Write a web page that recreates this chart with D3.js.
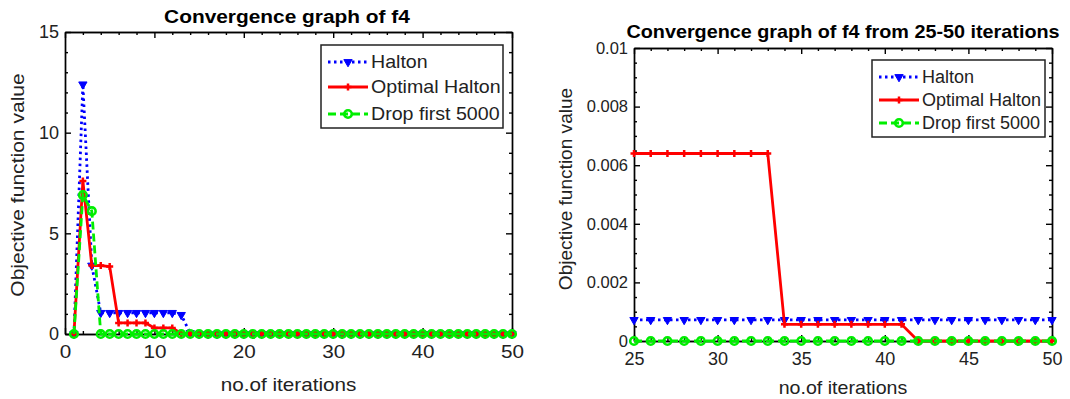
<!DOCTYPE html>
<html>
<head>
<meta charset="utf-8">
<script src="https://cdn.jsdelivr.net/npm/d3@7"></script>
<style>
  body { margin: 0; background: #fff; }
  svg { font-family: "Liberation Sans", Arial, sans-serif; }
  .axis path, .axis line { stroke: #000; stroke-width: 1.4; }
  .axis text { font-size: 18px; fill: #222; }
</style>
</head>
<body>
<svg id="chart" width="1070" height="399"></svg>
<script>

// iteration numbers
var iterations = [1, 2, 3, 4, 5, 6, 7, 8, 9, 10, 11, 12, 13, 14, 15, 16, 17, 18, 19, 20,
    21, 22, 23, 24, 25, 26, 27, 28, 29, 30, 31, 32, 33, 34, 35, 36, 37, 38, 39, 40,
    41, 42, 43, 44, 45, 46, 47, 48, 49, 50];

var halton = [0, 12.4, 3.4, 1.05, 1.05, 1.05, 1.05, 1.05, 1.05, 1.05, 1.05, 1.05, 0.95, 0.05,
    0.00072, 0.00072, 0.00072, 0.00072, 0.00072, 0.00072, 0.00072, 0.00072, 0.00072, 0.00072,
    0.00072, 0.00072, 0.00072, 0.00072, 0.00072, 0.00072, 0.00072, 0.00072, 0.00072, 0.00072,
    0.00072, 0.00072, 0.00072, 0.00072, 0.00072, 0.00072, 0.00072, 0.00072, 0.00072, 0.00072,
    0.00072, 0.00072, 0.00072, 0.00072, 0.00072, 0.00072];

var optimal_halton = [0, 7.6, 3.4, 3.4, 3.35, 0.55, 0.55, 0.55, 0.55, 0.3, 0.3, 0.3, 0.03,
    0.0064, 0.0064, 0.0064, 0.0064, 0.0064, 0.0064, 0.0064, 0.0064, 0.0064, 0.0064,
    0.0064, 0.0064, 0.0064, 0.0064, 0.0064, 0.0064, 0.0064, 0.0064, 0.0064, 0.0064,
    0.00057, 0.00057, 0.00057, 0.00057, 0.00057, 0.00057, 0.00057, 0.00057,
    0, 0, 0, 0, 0, 0, 0, 0, 0];

var drop_first = [0, 6.9, 6.1, 0, 0, 0, 0, 0, 0, 0, 0, 0, 0, 0, 0, 0, 0, 0, 0, 0,
    0, 0, 0, 0, 0, 0, 0, 0, 0, 0, 0, 0, 0, 0, 0, 0, 0, 0, 0, 0,
    0, 0, 0, 0, 0, 0, 0, 0, 0, 0];

var series_names = ['Halton', 'Optimal Halton', 'Drop first 5000'];

var left_x_ticks = [0, 10, 20, 30, 40, 50];
var left_y_ticks = [0, 5, 10, 15];
var right_x_ticks = [25, 30, 35, 40, 45, 50];
var right_y_ticks = [0, 0.002, 0.004, 0.006, 0.008, 0.01];

//-------------------------------------------------------------------------------------------------------------------------

var svg = d3.select("#chart");

var styles = [
    {color: "#0000ff", dash: "2.5,3.5", marker: "tri"},
    {color: "#ff0000", dash: null, marker: "plus"},
    {color: "#00ee00", dash: "8,4", marker: "circle"}
];

var all_series = [halton, optimal_halton, drop_first];

function drawMarker(g, kind, color, px, py) {
    if (kind == "tri") {
        g.append("path")
            .attr("d", d3.symbol(d3.symbolTriangle, 30)())
            .attr("transform", `translate(${px},${py}) rotate(180)`)
            .attr("fill", color).attr("stroke", color).attr("stroke-width", 1);
    } else if (kind == "plus") {
        g.append("path")
            .attr("d", "M-3.5,0H3.5M0,-3.5V3.5")
            .attr("transform", `translate(${px},${py})`)
            .attr("stroke", color).attr("stroke-width", 2.5).attr("fill", "none");
    } else {
        g.append("circle")
            .attr("cx", px).attr("cy", py).attr("r", 3.8)
            .attr("fill", "none").attr("stroke", color).attr("stroke-width", 2.6);
    }
}

function drawPanel(opt) {
    var x = d3.scaleLinear().domain(opt.xdom).range([opt.left, opt.right]);
    var y = d3.scaleLinear().domain(opt.ydom).range([opt.bottom, opt.top]);
    var id = opt.id;

    // minor ticks
    svg.append("g").attr("class", "axis")
        .attr("transform", `translate(0,${opt.bottom})`)
        .call(d3.axisBottom(x).tickValues(opt.xminor).tickSize(-3).tickFormat("").tickSizeOuter(0));
    svg.append("g").attr("class", "axis")
        .attr("transform", `translate(0,${opt.top})`)
        .call(d3.axisTop(x).tickValues(opt.xminor).tickSize(-3).tickFormat("").tickSizeOuter(0));
    svg.append("g").attr("class", "axis")
        .attr("transform", `translate(${opt.left},0)`)
        .call(d3.axisLeft(y).tickValues(opt.yminor).tickSize(-3).tickFormat("").tickSizeOuter(0));
    svg.append("g").attr("class", "axis")
        .attr("transform", `translate(${opt.right},0)`)
        .call(d3.axisRight(y).tickValues(opt.yminor).tickSize(-3).tickFormat("").tickSizeOuter(0));

    // major ticks
    svg.append("g").attr("class", "axis")
        .attr("transform", `translate(0,${opt.bottom})`)
        .call(d3.axisBottom(x).tickValues(opt.xticks).tickSize(-6).tickPadding(opt.xpad).tickSizeOuter(0))
        .selectAll("text").attr("transform", `scale(${opt.tsx},1)`);
    svg.append("g").attr("class", "axis")
        .attr("transform", `translate(0,${opt.top})`)
        .call(d3.axisTop(x).tickValues(opt.xticks).tickSize(-6).tickFormat("").tickSizeOuter(0));
    svg.append("g").attr("class", "axis")
        .attr("transform", `translate(${opt.left},0)`)
        .call(d3.axisLeft(y).tickValues(opt.yticks).tickSize(-6).tickPadding(6).tickSizeOuter(0)
            .tickFormat(opt.yfmt))
        .selectAll("text").style("font-size", opt.yfont);
    svg.append("g").attr("class", "axis")
        .attr("transform", `translate(${opt.right},0)`)
        .call(d3.axisRight(y).tickValues(opt.yticks).tickSize(-6).tickFormat("").tickSizeOuter(0));

    svg.append("clipPath").attr("id", "clip" + id)
        .append("rect")
        .attr("x", opt.left - 6).attr("y", opt.top)
        .attr("width", opt.right - opt.left + 12).attr("height", opt.bottom - opt.top + 6);

    var plot = svg.append("g").attr("clip-path", `url(#clip${id})`);

    all_series.forEach(function(vals, k) {
        var st = styles[k];
        var pts = [];
        iterations.forEach(function(it, i) {
            if (it >= opt.xdom[0] && it <= opt.xdom[1]) pts.push([it, vals[i]]);
        });
        var line = d3.line().x(d => x(d[0])).y(d => y(d[1]));
        plot.append("path")
            .datum(pts)
            .attr("d", line)
            .attr("fill", "none")
            .attr("stroke", st.color)
            .attr("stroke-width", 2.8)
            .attr("stroke-dasharray", st.dash);
        var mg = plot.append("g");
        pts.forEach(function(p) {
            drawMarker(mg, st.marker, st.color, x(p[0]), y(p[1]));
        });
    });

    // titles and labels
    svg.append("text")
        .attr("transform", `translate(${opt.titleX},${opt.titleY}) scale(${opt.sx},1)`)
        .attr("text-anchor", "middle")
        .style("font-size", "18px").style("font-weight", "bold")
        .text(opt.title);

    svg.append("text")
        .attr("transform", `translate(${(opt.left + opt.right) / 2},${opt.xlabY}) scale(${opt.lsx},1)`)
        .attr("text-anchor", "middle")
        .style("font-size", "18px").attr("fill", "#222")
        .text("no.of iterations");

    svg.append("text")
        .attr("transform", `translate(${opt.ylabX},${opt.ylabY}) rotate(-90) scale(${opt.ysx},1)`)
        .attr("text-anchor", "middle")
        .style("font-size", "18px").attr("fill", "#222")
        .text("Objective function value");

    // legend
    var lg = svg.append("g").attr("transform", `translate(${opt.legX},${opt.legY})`);
    lg.append("rect")
        .attr("width", opt.legW).attr("height", opt.legH)
        .attr("fill", "#fff").attr("stroke", "#222").attr("stroke-width", 1.5);
    series_names.forEach(function(name, k) {
        var st = styles[k];
        var ly = opt.legRows[k];
        lg.append("line")
            .attr("x1", 7).attr("x2", 47).attr("y1", ly).attr("y2", ly)
            .attr("stroke", st.color).attr("stroke-width", 2.8)
            .attr("stroke-dasharray", st.dash);
        drawMarker(lg, st.marker, st.color, 27, ly);
        lg.append("text")
            .attr("transform", `translate(50,${ly + 6}) scale(${opt.legsx},1)`)
            .style("font-size", "18px").attr("fill", "#222")
            .text(name);
    });
}

drawPanel({
    id: "a", left: 65, right: 512, top: 32, bottom: 334,
    xdom: [0, 50], ydom: [0, 15],
    xticks: left_x_ticks, yticks: left_y_ticks,
    xminor: [2, 4, 6, 8, 12, 14, 16, 18, 22, 24, 26, 28, 32, 34, 36, 38, 42, 44, 46, 48],
    yminor: [1, 2, 3, 4, 6, 7, 8, 9, 11, 12, 13, 14],
    yfmt: d3.format("d"), yfont: "18px", xpad: 11, tsx: 1.15,
    sx: 1.16, lsx: 1.15, ysx: 1.17,
    title: "Convergence graph of f4", titleX: 287, titleY: 23,
    xlabY: 391, ylabX: 24, ylabY: 185,
    legX: 321, legY: 45, legW: 182, legH: 83, legRows: [17, 42, 69], legsx: 1.09
});

drawPanel({
    id: "b", left: 634, right: 1052, top: 48, bottom: 341,
    xdom: [25, 50], ydom: [0, 0.01],
    xticks: right_x_ticks, yticks: right_y_ticks,
    xminor: [26, 27, 28, 29, 31, 32, 33, 34, 36, 37, 38, 39, 41, 42, 43, 44, 46, 47, 48, 49],
    yminor: [0.0005, 0.001, 0.0015, 0.0025, 0.003, 0.0035, 0.0045, 0.005, 0.0055,
        0.0065, 0.007, 0.0075, 0.0085, 0.009, 0.0095],
    yfmt: d => d == 0 ? "0" : d3.format("")(+d.toFixed(3)), yfont: "16.5px", xpad: 11, tsx: 1.0,
    sx: 1.1, lsx: 1.09, ysx: 1.06,
    title: "Convergence graph of f4 from 25-50 iterations", titleX: 843, titleY: 38,
    xlabY: 394, ylabX: 572, ylabY: 189,
    legX: 872, legY: 60, legW: 173, legH: 77, legRows: [17, 40, 63], legsx: 1.0
});
</script>
</body>
</html>
